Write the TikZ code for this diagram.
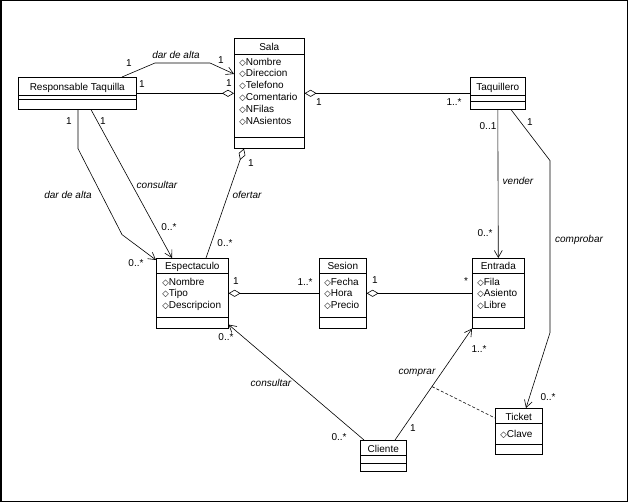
\documentclass[tikz,border=0pt]{standalone}
\usepackage{fontspec}
\setmainfont{Liberation Sans}
\newfontfamily\simbolos{DejaVu Sans}
\usetikzlibrary{arrows.meta,positioning,calc}

\newcommand{\rombo}{{\simbolos\fontsize{8.5}{8.5}\selectfont\char"25C7}}

\begin{document}
\begin{tikzpicture}[x=1pt,y=-1pt,line width=0.6pt,
            class node/.style={rectangle,draw,fill=white,anchor=north west,inner sep=0pt},
            name text/.style={font=\fontsize{10}{12}\selectfont,inner sep=0pt,text height=7pt,text depth=2pt},
            attr text/.style={font=\fontsize{10}{11.8}\selectfont,inner sep=0pt,anchor=north west,align=left},
            mult text/.style={font=\fontsize{10}{12}\selectfont,inner sep=0pt,text height=7.2pt,text depth=0pt},
            verb text/.style={font=\fontsize{10}{12}\selectfont\itshape,inner sep=0pt,text height=7.2pt,text depth=0pt},
            assoc/.style={-{Straight Barb[length=7pt,width=8pt]}},
            aggr/.style={{Diamond[open,length=12pt,width=7pt]}-}]

            \useasboundingbox (0,0) rectangle (628,502);
            \draw[line width=1.5pt] (0.75,0.75) rectangle (627.25,501.25);

            \node[class node,minimum width=118,minimum height=32] (ResponsableTaquilla) at (18,77) {};
            \node[name text] (ResponsableTaquillaName) at ([yshift=-11]ResponsableTaquilla.north) {Responsable Taquilla};
            \draw ([yshift=-18]ResponsableTaquilla.north west) -- ([yshift=-18]ResponsableTaquilla.north east)
                  ([yshift=-22]ResponsableTaquilla.north west) -- ([yshift=-22]ResponsableTaquilla.north east);

            \node[class node,minimum width=70,minimum height=110] (Sala) at (234,38) {};
            \node[name text] (SalaName) at ([yshift=-10]Sala.north) {Sala};
            \draw ([yshift=-16]Sala.north west) -- ([yshift=-16]Sala.north east)
                  ([yshift=-99]Sala.north west) -- ([yshift=-99]Sala.north east);
            \node[attr text] (SalaAttr) at ([xshift=5,yshift=-19.5]Sala.north west)
                {\rombo Nombre\\\rombo Direccion\\\rombo Telefono\\\rombo Comentario\\\rombo NFilas\\\rombo NAsientos};

            \node[class node,minimum width=55,minimum height=32] (Taquillero) at (470,77) {};
            \node[name text] (TaquilleroName) at ([yshift=-11]Taquillero.north) {Taquillero};
            \draw ([yshift=-18]Taquillero.north west) -- ([yshift=-18]Taquillero.north east)
                  ([yshift=-24]Taquillero.north west) -- ([yshift=-24]Taquillero.north east);

            \node[class node,minimum width=72,minimum height=70] (Espectaculo) at (156,258) {};
            \node[name text] (EspectaculoName) at ([yshift=-9]Espectaculo.north) {Espectaculo};
            \draw ([yshift=-15]Espectaculo.north west) -- ([yshift=-15]Espectaculo.north east)
                  ([yshift=-59]Espectaculo.north west) -- ([yshift=-59]Espectaculo.north east);
            \node[attr text] (EspectaculoAttr) at ([xshift=6,yshift=-19.5]Espectaculo.north west)
                {\rombo Nombre\\\rombo Tipo\\\rombo Descripcion};

            \node[class node,minimum width=47,minimum height=70] (Sesion) at (319,258) {};
            \node[name text] (SesionName) at ([yshift=-9]Sesion.north) {Sesion};
            \draw ([yshift=-15]Sesion.north west) -- ([yshift=-15]Sesion.north east)
                  ([yshift=-59]Sesion.north west) -- ([yshift=-59]Sesion.north east);
            \node[attr text] (SesionAttr) at ([xshift=5,yshift=-19.5]Sesion.north west)
                {\rombo Fecha\\\rombo Hora\\\rombo Precio};

            \node[class node,minimum width=52,minimum height=70] (Entrada) at (472,258) {};
            \node[name text] (EntradaName) at ([yshift=-9]Entrada.north) {Entrada};
            \draw ([yshift=-15]Entrada.north west) -- ([yshift=-15]Entrada.north east)
                  ([yshift=-59]Entrada.north west) -- ([yshift=-59]Entrada.north east);
            \node[attr text] (EntradaAttr) at ([xshift=5,yshift=-19.5]Entrada.north west)
                {\rombo Fila\\\rombo Asiento\\\rombo Libre};

            \node[class node,minimum width=46,minimum height=31] (Cliente) at (360,440) {};
            \node[name text] (ClienteName) at ([yshift=-10]Cliente.north) {Cliente};
            \draw ([yshift=-15]Cliente.north west) -- ([yshift=-15]Cliente.north east)
                  ([yshift=-23]Cliente.north west) -- ([yshift=-23]Cliente.north east);

            \node[class node,minimum width=47,minimum height=46] (Ticket) at (495,408) {};
            \node[name text] (TicketName) at ([yshift=-10]Ticket.north) {Ticket};
            \draw ([yshift=-15]Ticket.north west) -- ([yshift=-15]Ticket.north east)
                  ([yshift=-36]Ticket.north west) -- ([yshift=-36]Ticket.north east);
            \node[attr text] (TicketAttr) at ([xshift=5,yshift=-21.5]Ticket.north west) {\rombo Clave};

            \draw[assoc] ([xshift=104]ResponsableTaquilla.north west) -- ++(33,-14) -- ++(55,0) -- ([yshift=-36]Sala.north west);
            \draw[aggr] (Sala.west) -- (ResponsableTaquilla.east);
            \draw[aggr] (Sala.east) -- (Taquillero.west);
            \draw[assoc] ([xshift=60]ResponsableTaquilla.south west) -- ++(0,39) -- ++(44,86) -- ([yshift=-2]Espectaculo.north west);
            \draw[assoc] ([xshift=73]ResponsableTaquilla.south west) -- ([xshift=16]Espectaculo.north west);
            \draw[aggr] ([xshift=10]Sala.south west) -- ([xshift=50]Espectaculo.north west);
            \draw[aggr] (Espectaculo.east) -- (Sesion.west);
            \draw[aggr] (Sesion.east) -- (Entrada.west);
            \draw[assoc] (Taquillero.south) -- (Entrada.north);
            \draw[assoc] ([xshift=41]Taquillero.south west) -- ++(39,51) -- ++(0,172) -- ([xshift=31]Ticket.north west);
            \draw[assoc] ([xshift=4]Cliente.north west) -- ([yshift=4]Espectaculo.south east);
            \draw[assoc] ([xshift=35]Cliente.north west) -- coordinate[pos=0.48] (ComprarMid) (Entrada.south west);
            \draw[dash pattern=on 3pt off 2pt] (ComprarMid) -- ([yshift=-10]Ticket.north west);

            \node[verb text] (DarAltaSala) at (176,55) {dar de alta};
            \node[mult text] (mDarAltaSalaA) at (129,63) {1};
            \node[mult text] (mDarAltaSalaB) at (221,60) {1};
            \node[mult text] (mRespSalaA) at (142,84) {1};
            \node[mult text] (mRespSalaB) at (229,83) {1};
            \node[mult text] (mSalaTaqA) at (319,102) {1};
            \node[mult text] (mSalaTaqB) at (454,102) {1..*};
            \node[verb text] (DarAltaEsp) at (68,195) {dar de alta};
            \node[mult text] (mDarAltaEspA) at (69,121) {1};
            \node[mult text] (mDarAltaEspB) at (136,263) {0..*};
            \node[verb text] (ConsultarResp) at (157,185) {consultar};
            \node[mult text] (mConsultarRespA) at (103,121) {1};
            \node[mult text] (mConsultarRespB) at (169,227) {0..*};
            \node[verb text] (Ofertar) at (247,195) {ofertar};
            \node[mult text] (mOfertarA) at (251,163) {1};
            \node[mult text] (mOfertarB) at (225,243) {0..*};
            \node[mult text] (mEspSesionA) at (236,281) {1};
            \node[mult text] (mEspSesionB) at (305,282) {1..*};
            \node[mult text] (mSesionEntA) at (375,280) {1};
            \node[mult text] (mSesionEntB) at (466,281) {*};
            \node[mult text] (mVenderA) at (488,126) {0..1};
            \node[verb text] (Vender) at (518,181) {vender};
            \node[mult text] (mVenderB) at (485,233) {0..*};
            \node[mult text] (mComprobarA) at (530,122) {1};
            \node[verb text] (Comprobar) at (579,239) {comprobar};
            \node[mult text] (mComprobarB) at (548,397) {0..*};
            \node[verb text] (ConsultarCli) at (271,383) {consultar};
            \node[mult text] (mConsultarCliA) at (226,337) {0..*};
            \node[mult text] (mConsultarCliB) at (339,437) {0..*};
            \node[verb text] (Comprar) at (417,371) {comprar};
            \node[mult text] (mComprarA) at (413,428) {1};
            \node[mult text] (mComprarB) at (479,349) {1..*};
\end{tikzpicture}
\end{document}
